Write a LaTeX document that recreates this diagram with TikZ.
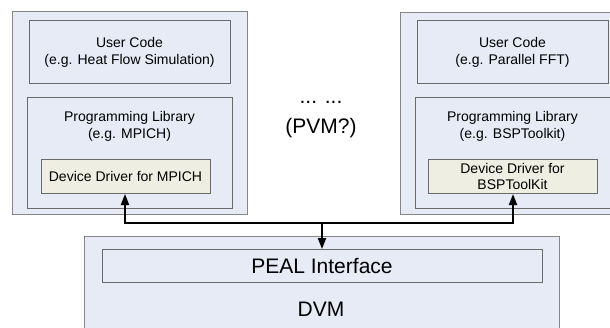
\documentclass[tikz,border=0pt]{standalone}
\usepackage{fontspec}
\setmainfont{Liberation Sans}
\usetikzlibrary{arrows.meta}
\definecolor{boxblue}{HTML}{E6EBF6}
\definecolor{drvfill}{HTML}{EEEEE2}
\definecolor{outline}{HTML}{858585}
\definecolor{inline}{HTML}{6A6A6A}
\begin{document}
\begin{tikzpicture}[x=1pt,y=-1pt,
  outerbox/.style={draw=outline,line width=1.2pt,fill=boxblue,anchor=north west,inner sep=0pt},
  innerbox/.style={draw=inline,line width=1pt,fill=boxblue,anchor=north west,inner sep=0pt},
  drvbox/.style={draw=inline,line width=1pt,fill=drvfill,anchor=north west,inner sep=0pt},
  lbl/.style={font=\fontsize{14}{17}\selectfont,align=center,inner sep=0pt},
  big/.style={font=\fontsize{21}{25}\selectfont,align=center,inner sep=0pt},
  conn/.style={line width=2pt,black,-{Triangle[length=11pt,width=8pt]}}]
\useasboundingbox (0,0) rectangle (610,327);
\fill[white] (0,0) rectangle (610,327);
% left stack
\node[outerbox,minimum width=235pt,minimum height=203pt] (lout) at (12,11) {};
\node[innerbox,minimum width=201pt,minimum height=63pt] (luser) at (29,20) {};
\node[lbl] (lusert) at (129.5,52) {User Code\\(e.g. Heat Flow Simulation)};
\node[innerbox,minimum width=205pt,minimum height=111pt] (lprog) at (27,97) {};
\node[lbl] (lprogt) at (129.5,126) {Programming Library\\(e.g. MPICH)};
\node[drvbox,minimum width=169pt,minimum height=34pt] (ldrv) at (41,159) {};
\node[lbl] (ldrvt) at (125.5,176) {Device Driver for MPICH};
% right stack
\node[outerbox,minimum width=235pt,minimum height=202pt] (rout) at (400,12) {};
\node[innerbox,minimum width=191pt,minimum height=63pt] (ruser) at (417,20) {};
\node[lbl] (rusert) at (512.5,52) {User Code\\(e.g. Parallel FFT)};
\node[innerbox,minimum width=205pt,minimum height=111pt] (rprog) at (415,97) {};
\node[lbl] (rprogt) at (512.5,126) {Programming Library\\(e.g. BSPToolkit)};
\node[drvbox,minimum width=169pt,minimum height=34pt] (rdrv) at (428,159) {};
\node[font=\fontsize{14}{16}\selectfont,align=center,inner sep=0pt] (rdrvt) at (512.5,176) {Device Driver for\\BSPToolKit};
% middle
\node[big] (dots) at (321,102) {... ...};
\node[big] (pvm) at (321,128) {(PVM?)};
% DVM
\node[outerbox,minimum width=475pt,minimum height=100pt] (dvm) at (84,236) {};
\node[innerbox,minimum width=440pt,minimum height=33pt] (peal) at (102,249) {};
\node[big] (pealt) at (322,265.5) {PEAL Interface};
\node[big] (dvmt) at (321,309) {DVM};
% connectors
\coordinate (jl) at (125,223);
\coordinate (jr) at (513,223);
\coordinate (jm) at (322,223);
\draw[conn] (jl) -- (jl |- ldrv.south);
\draw[conn] (jr) -- (jr |- rdrv.south);
\draw[conn] (jm) -- (jm |- peal.north);
\draw[line width=2pt,line cap=rect] (jl) -- (jr);
\end{tikzpicture}
\end{document}
